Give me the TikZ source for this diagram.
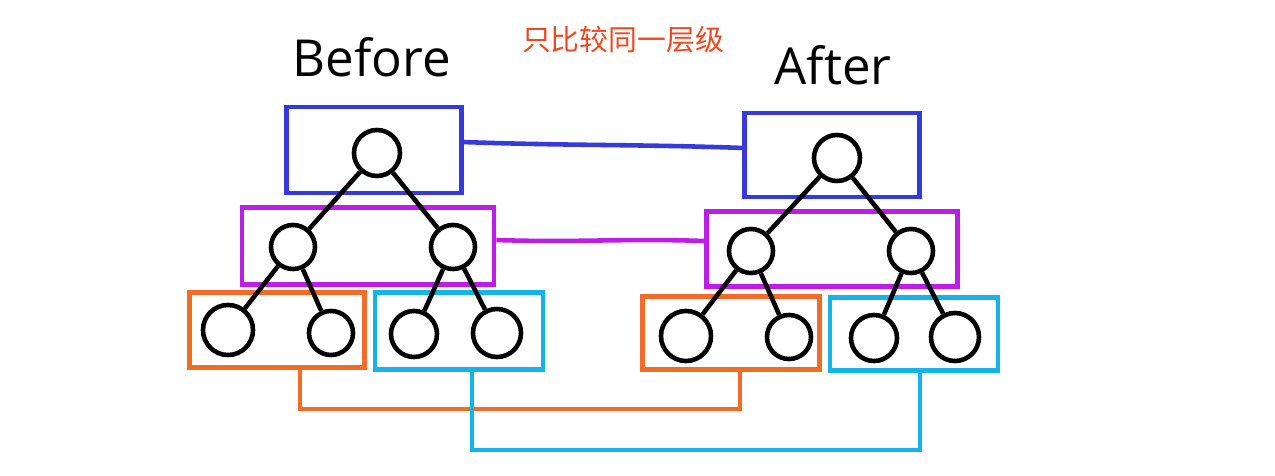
\documentclass[tikz,border=0pt]{standalone}
\usepackage{fontspec}
\setmainfont{Open Sans}
\newfontfamily\cjk{Noto Sans CJK SC}
\usetikzlibrary{calc}
\definecolor{lvlblue}{RGB}{52,58,222}
\definecolor{lvlmag}{RGB}{188,30,230}
\definecolor{lvlorange}{RGB}{242,108,40}
\definecolor{lvlcyan}{RGB}{20,180,232}
\definecolor{notered}{RGB}{240,72,34}
\tikzset{
  lvlbox/.style={draw, line width=1.3pt, minimum width=#1},
  vtx/.style={circle, draw=black, fill=white, line width=1.3pt, inner sep=0pt, minimum size=#1},
  vtx/.default=0.44cm,
  edg/.style={black, line width=1.3pt},
  link/.style={line width=1.3pt},
  ttl/.style={font=\fontsize{14.5}{17}\selectfont},
}
\begin{document}
\begin{tikzpicture}[x=0.01cm, y=-0.01cm]
    \useasboundingbox (0,0) rectangle (1275,476);
    % titles
    \node[ttl] (tBefore) at (372,57) {Before};
    \node[ttl] (tAfter) at (833,65) {After};
    \node[font=\cjk\fontsize{8.2}{10}\selectfont, text=notered] (tNote) at (623,40) {只比较同一层级};
    % level boxes, before
    \node[lvlbox=1.75cm, minimum height=0.86cm, lvlblue] (bB) at (374,150) {};
    \node[lvlbox=2.52cm, minimum height=0.77cm, lvlmag] (bM) at (368,246) {};
    \node[lvlbox=1.75cm, minimum height=0.75cm, lvlorange] (bO) at (277,330) {};
    \node[lvlbox=1.68cm, minimum height=0.77cm, lvlcyan] (bC) at (459,331) {};
    % level boxes, after
    \node[lvlbox=1.75cm, minimum height=0.84cm, lvlblue] (aB) at (832,155) {};
    \node[lvlbox=2.51cm, minimum height=0.75cm, lvlmag] (aM) at (832,249) {};
    \node[lvlbox=1.77cm, minimum height=0.73cm, lvlorange] (aO) at (731,333) {};
    \node[lvlbox=1.68cm, minimum height=0.73cm, lvlcyan] (aC) at (914,334) {};
    % trees
    \node[vtx=0.46cm] (bR) at (377,153) {};
    \node[vtx] (bL) at (293,247) {};
    \node[vtx] (bRr) at (453,247) {};
    \node[vtx=0.50cm] (bLa) at (228,330) {};
    \node[vtx] (bLb) at (331,333) {};
    \node[vtx=0.46cm] (bRa) at (414,334) {};
    \node[vtx=0.48cm] (bRb) at (497,333) {};
    \node[vtx=0.46cm] (aR) at (837,158) {};
    \node[vtx] (aL) at (751,251) {};
    \node[vtx] (aRr) at (911,251) {};
    \node[vtx=0.50cm] (aLa) at (686,336) {};
    \node[vtx] (aLb) at (789,337) {};
    \node[vtx=0.46cm] (aRa) at (874,338) {};
    \node[vtx=0.48cm] (aRb) at (955,337) {};
    \foreach \t in {b,a}{
      \draw[edg] (\t R) -- (\t L);
      \draw[edg] (\t R) -- (\t Rr);
      \draw[edg] (\t L) -- (\t La);
      \draw[edg] (\t L) -- (\t Lb);
      \draw[edg] (\t Rr) -- (\t Ra);
      \draw[edg] (\t Rr) -- (\t Rb);}
    % same-level links
    \draw[link, lvlblue] ($(bB.east)+(-2,-8)$) to[out=-2, in=178] ($(aB.west)+(2,-7)$);
    \draw[link, lvlmag] ($(bM.east)+(0,-6)$) to[out=-2, in=178] ($(aM.west)+(0,-8)$);
    \draw[link, lvlorange] ($(bO.south)+(23,0)$) -- ++(0,39) -| ($(aO.south)+(9,0)$);
    \draw[link, lvlcyan] ($(bC.south)+(13,0)$) -- ++(0,78) -| ($(aC.south)+(6,0)$);
\end{tikzpicture}
\end{document}
